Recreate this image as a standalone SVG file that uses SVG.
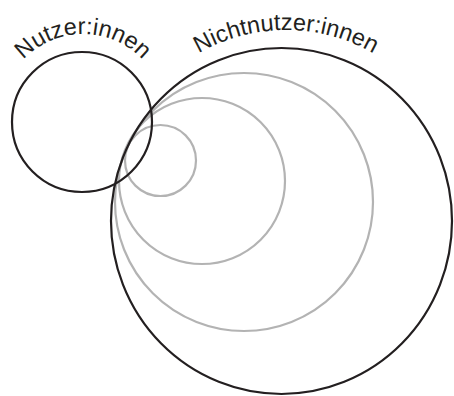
<svg xmlns="http://www.w3.org/2000/svg" xmlns:xlink="http://www.w3.org/1999/xlink" width="454" height="396" viewBox="0 0 454 396">
  <style>
    .blk { fill: none; stroke: #231f20; stroke-width: 2.2; }
    .gry { fill: none; stroke: #b3b3b3; stroke-width: 2.2; }
    .lbl { font-family: "Liberation Sans", Arial, sans-serif; font-size: 23.5px; fill: #231f20; }
  </style>
  <defs>
    <path id="arcN" d="M 1,116 A 82 82 0 0 1 165,116"/>
    <path id="arcNN" d="M 111,205 A 175 175 0 0 1 461,205"/>
  </defs>
  <rect width="454" height="396" fill="#ffffff"/>
  <g id="connectors"></g>
  <g id="nichtnutzer">
    <circle class="gry" cx="244" cy="202" r="129"/>
    <circle class="gry" cx="202" cy="181" r="83"/>
    <circle class="gry" cx="160.5" cy="160.5" r="35.5"/>
    <ellipse class="blk" cx="281.5" cy="221" rx="170.5" ry="173"/>
    <text class="lbl" text-anchor="middle"><textPath xlink:href="#arcNN" startOffset="50%">Nichtnutzer:innen</textPath></text>
  </g>
  <g id="nutzer">
    <circle class="blk" cx="82" cy="122" r="70"/>
    <text class="lbl" text-anchor="middle"><textPath xlink:href="#arcN" startOffset="50%">Nutzer:innen</textPath></text>
  </g>
</svg>
